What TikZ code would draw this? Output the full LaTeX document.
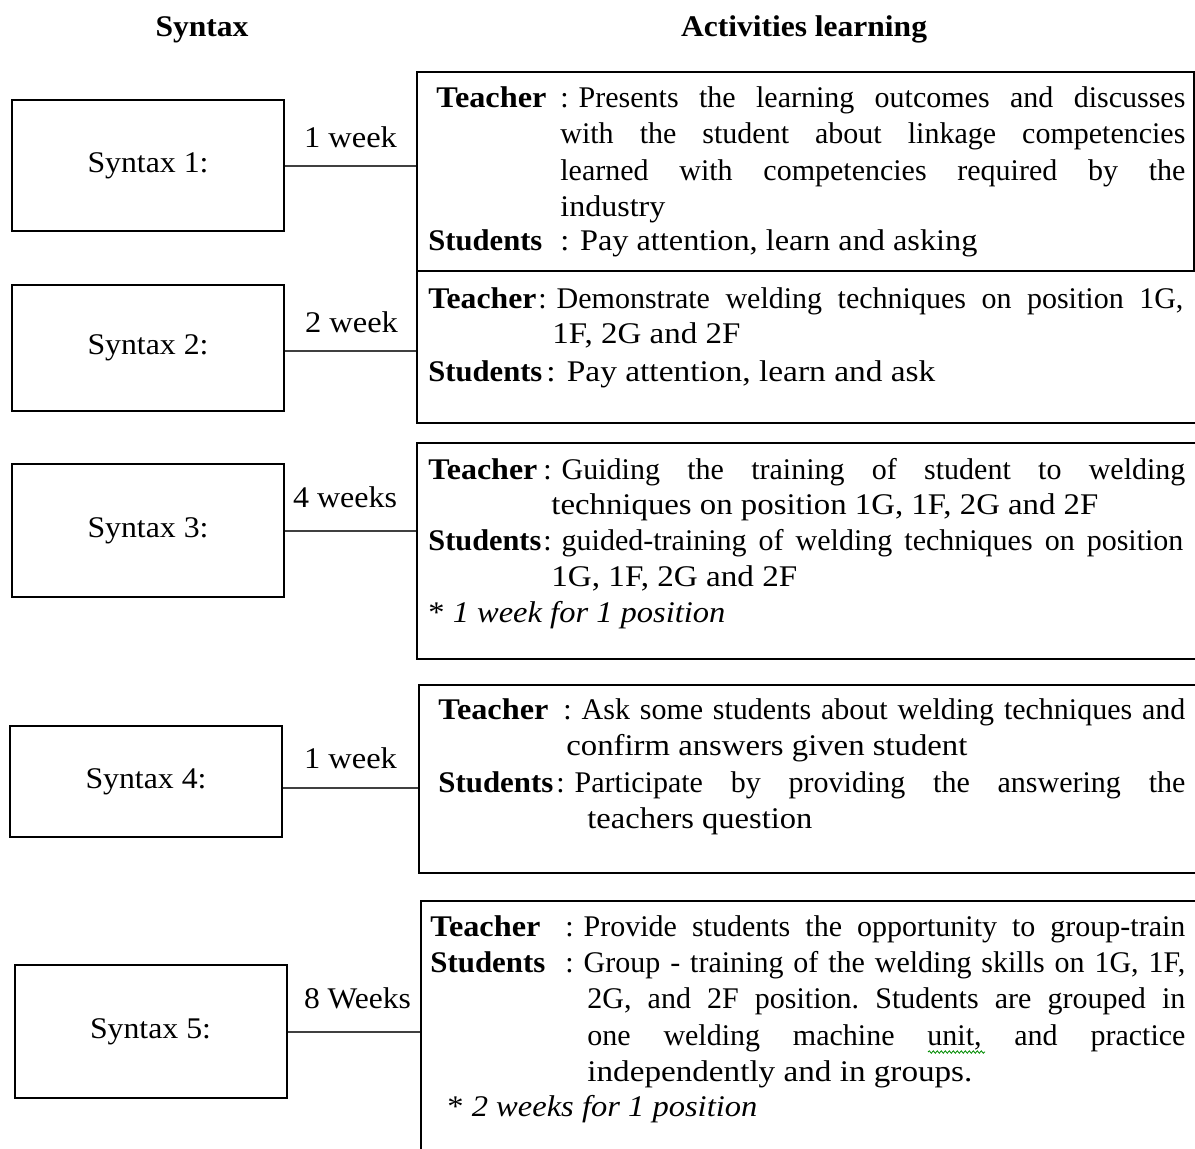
\documentclass[tikz,border=0pt]{standalone}
\usepackage{fontspec}
\setmainfont{Liberation Serif}
\usetikzlibrary{decorations.pathmorphing}
\frenchspacing
\newsavebox\lnbox
\newcommand\scl[2]{\sbox\lnbox{#2}\pgfmathsetmacro\lnfac{#1*0.5/\wd\lnbox}\scalebox{\lnfac}[1]{\usebox\lnbox}}
\newcommand\jus[2]{\sbox\lnbox{#2}\ifdim\wd\lnbox>\dimexpr#1pt/2\relax\scl{#1}{#2}\else\makebox[\dimexpr#1pt/2\relax][s]{#2}\fi}
\newcommand\cln{:\hspace{5pt}}
\tikzset{
  sbox/.style={draw=black, line width=1pt, minimum width=136pt, inner sep=0pt, font=\fontsize{15}{18}\selectfont},
  abox/.style={draw=black, line width=1pt, inner sep=0pt},
  conn/.style={draw=black!75, line width=1pt},
  txt/.style={anchor=base west, inner sep=0pt, font=\fontsize{15}{18}\selectfont},
  dur/.style={anchor=base, inner sep=0pt, font=\fontsize{15}{18}\selectfont},
  head/.style={anchor=base, inner sep=0pt, font=\fontsize{15}{18}\selectfont\bfseries}
}
\begin{document}
\begin{tikzpicture}[x=0.5pt, y=-0.5pt]
\useasboundingbox (0,0) rectangle (1195,1148);
\clip (0,0) rectangle (1195,1148);
\fill[white] (0,0) rectangle (1195,1148);

% headings
\node[head] (h1) at (202,36) {\scl{93}{Syntax}};
\node[head] (h2) at (804,36) {\scl{246}{Activities learning}};

% syntax boxes
\node[sbox, minimum height=65.5pt] (s1) at (148,165.5) {\scl{121}{Syntax 1:}};
\node[sbox, minimum height=63pt] (s2) at (148,348) {\scl{121}{Syntax 2:}};
\node[sbox, minimum height=66.5pt] (s3) at (148,530.5) {\scl{121}{Syntax 3:}};
\node[sbox, minimum height=55.5pt] (s4) at (146,781.5) {\scl{121}{Syntax 4:}};
\node[sbox, minimum height=66.5pt] (s5) at (150.5,1031.5) {\scl{121}{Syntax 5:}};

% activity boxes
\node[abox, minimum width=388.5pt, minimum height=99.5pt] (a1) at (805.5,171.5) {};
\node[abox, minimum width=396.5pt, minimum height=76pt] (a2) at (813.5,347) {};
\node[abox, minimum width=396.5pt, minimum height=108pt] (a3) at (813.5,551) {};
\node[abox, minimum width=395.5pt, minimum height=94pt] (a4) at (814.5,779) {};
\node[abox, minimum width=394.5pt, minimum height=134.5pt] (a5) at (815.5,1035.5) {};

% connectors
\draw[conn] (s1.east) -- (s1.east -| a1.west);
\draw[conn] ([yshift=-1.5pt]s2.east) -- ([yshift=-1.5pt]s2.east -| a2.west);
\draw[conn] (s3.east) -- (s3.east -| a3.west);
\draw[conn] ([yshift=-3.25pt]s4.east) -- ([yshift=-3.25pt]s4.east -| a4.west);
\draw[conn] (s5.east) -- (s5.east -| a5.west);

% durations
\node[dur] (d1) at (350.5,147) {\scl{93}{1 week}};
\node[dur] (d2) at (351.5,332) {\scl{93}{2 week}};
\node[dur] (d3) at (345,507) {\scl{104}{4 weeks}};
\node[dur] (d4) at (350.5,768) {\scl{93}{1 week}};
\node[dur] (d5) at (357.5,1008) {\scl{107}{8 Weeks}};

% box 1
\node[txt] (b1t) at (436,107) {\scl{110}{\textbf{Teacher}}};
\node[txt] (b1a) at (560,107) {\jus{625}{\cln Presents the learning outcomes and discusses}};
\node[txt] (b1b) at (560,143) {\jus{625}{with the student about linkage competencies}};
\node[txt] (b1c) at (560,180) {\jus{625}{learned with competencies required by the}};
\node[txt] (b1d) at (560,216) {\scl{105}{industry}};
\node[txt] (b1s) at (428,250) {\scl{114}{\textbf{Students}}};
\node[txt] (b1e) at (560,250) {\scl{417}{\cln Pay attention, learn and asking}};

% box 2
\node[txt] (b2t) at (428,308) {\scl{108}{\textbf{Teacher}}};
\node[txt] (b2a) at (538,308) {\jus{645}{\cln Demonstrate welding techniques on position 1G,}};
\node[txt] (b2b) at (552,343) {\scl{188}{1F, 2G and 2F}};
\node[txt] (b2s) at (428,381) {\scl{114}{\textbf{Students}}};
\node[txt] (b2c) at (546,381) {\scl{389}{\cln Pay attention, learn and ask}};

% box 3
\node[txt] (b3t) at (428,479) {\scl{109}{\textbf{Teacher}}};
\node[txt] (b3a) at (543,479) {\jus{642}{\cln Guiding the training of student to welding}};
\node[txt] (b3b) at (551,514) {\scl{547}{techniques on position 1G, 1F, 2G and 2F}};
\node[txt] (b3s) at (428,550) {\scl{113}{\textbf{Students}}};
\node[txt] (b3c) at (543,550) {\jus{640}{\cln guided-training of welding techniques on position}};
\node[txt] (b3d) at (551,586) {\scl{246}{1G, 1F, 2G and 2F}};
\node[txt] (b3n) at (428,622) {\scl{297}{* \textit{1 week for 1 position}}};

% box 4
\node[txt] (b4t) at (438,719) {\scl{110}{\textbf{Teacher}}};
\node[txt] (b4a) at (563,719) {\jus{622}{\cln Ask some students about welding techniques and}};
\node[txt] (b4b) at (566,755) {\scl{401}{confirm answers given student}};
\node[txt] (b4s) at (438,792) {\scl{115}{\textbf{Students}}};
\node[txt] (b4c) at (556,792) {\jus{629}{\cln Participate by providing the answering the}};
\node[txt] (b4d) at (587,828) {\scl{225}{teachers question}};

% box 5
\node[txt] (b5t) at (430,936) {\scl{110}{\textbf{Teacher}}};
\node[txt] (b5a) at (565,936) {\jus{620}{\cln Provide students the opportunity to group-train}};
\node[txt] (b5s) at (430,972) {\scl{115}{\textbf{Students}}};
\node[txt] (b5b) at (565,972) {\jus{620}{\cln Group - training of the welding skills on 1G, 1F,}};
\node[txt] (b5c) at (587,1008) {\jus{598}{2G, and 2F position. Students are grouped in}};
\node[txt] (b5d) at (587,1045) {\jus{598}{one welding machine unit, and practice}};
\node[txt] (b5e) at (587,1081) {\scl{385}{independently and in groups.}};
\node[txt] (b5n) at (447,1116) {\scl{310}{* \textit{2 weeks for 1 position}}};

% spell-check squiggle
\draw[green!55!black, line width=0.4pt, decorate, decoration={snake, amplitude=0.6pt, segment length=2pt}] (928,1052) -- (985,1052);
\end{tikzpicture}
\end{document}
